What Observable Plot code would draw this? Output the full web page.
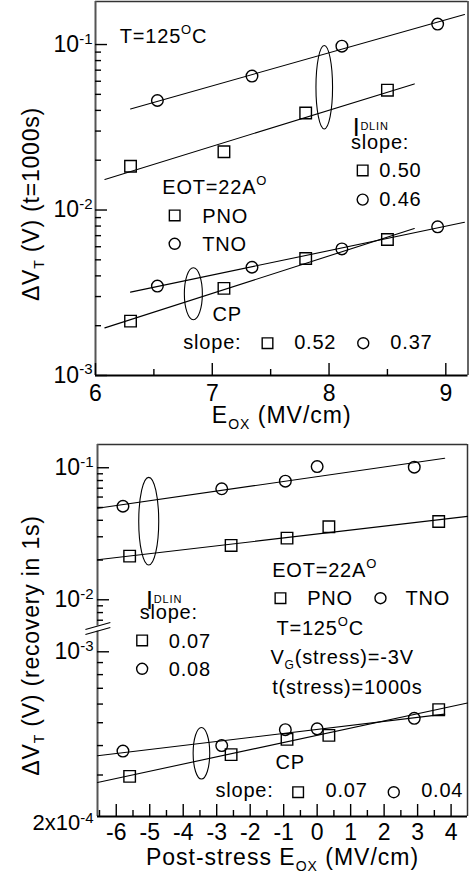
<!DOCTYPE html>
<html><head><meta charset="utf-8">
<script src="https://cdn.jsdelivr.net/npm/d3@7"></script>
<script src="https://cdn.jsdelivr.net/npm/@observablehq/plot@0.6"></script>
<style>
html,body{margin:0;padding:0;background:#fff;}
#wrap{position:relative;width:469px;height:875px;overflow:hidden;}
#top{position:absolute;left:0;top:0;}
#bot{position:absolute;left:0;top:430px;}
</style></head><body><div id="wrap"><div id="top"></div><div id="bot"></div></div>
<script>
// ================= DATA =================
// Top panel: dVT after 1000 s stress vs EOX (MV/cm)
const topPNOx = [6.30, 7.10, 7.80, 8.50];
const topTNOx = [6.53, 7.34, 8.11, 8.93];
const topPNO_IDLIN = [0.0184, 0.0225, 0.0386, 0.0530];
const topTNO_IDLIN = [0.0459, 0.0645, 0.0977, 0.133];
const topPNO_CP = [0.00213, 0.00336, 0.00509, 0.00664];
const topTNO_CP = [0.00347, 0.00451, 0.00582, 0.00791];
// fitted lines, end points
const topFitPNOx = [6.08, 8.73];
const topFitTNOx = [6.30, 9.16];
const topFitPNO_IDLIN = [0.0153, 0.0578];
const topFitTNO_IDLIN = [0.0408, 0.152];
const topFitPNO_CP = [0.00194, 0.00773];
const topFitTNO_CP = [0.00319, 0.00843];
const topXTicks = [6, 7, 8, 9];
const topXMinor = [6.5, 7.5, 8.5];
const topYTicks = [0.1, 0.01, 0.001];
const topYTickLabels = ["10-1", "10-2", "10-3"];

// Bottom panel: dVT recovery in 1 s vs post-stress EOX (MV/cm)
const botTNOx = [-5.80, -2.85, -0.95, 0.0, 2.90];
const botPNOx = [-5.60, -2.57, -0.90, 0.35, 3.63];
const botTNO_IDLIN = [0.0511, 0.0693, 0.0791, 0.102, 0.101];
const botPNO_IDLIN = [0.0214, 0.0258, 0.0293, 0.0357, 0.0392];
const botTNO_CP = [3.79e-4, 4.00e-4, 4.67e-4, 4.71e-4, 5.22e-4];
const botPNO_CP = [2.96e-4, 3.66e-4, 4.25e-4, 4.42e-4, 5.68e-4];
const botFitTNOx = [-6.56, 3.81];
const botFitPNOx = [-6.56, 4.49];
const botFitTNO_IDLIN = [0.0494, 0.118];
const botFitPNO_IDLIN = [0.0201, 0.0428];
const botFitTNO_CP = [3.62e-4, 5.44e-4];
const botFitPNO_CP = [2.79e-4, 6.06e-4];
const botXTicks = [-6, -5, -4, -3, -2, -1, 0, 1, 2, 3, 4];
const botXMinor = [-6.5, -5.5, -4.5, -3.5, -2.5, -1.5, -0.5, 0.5, 1.5, 2.5, 3.5];
const botYTicks = [0.1, 0.01, 0.001];
const botYTickLabels = ["10-1", "10-2", "10-3"];
const botYBottomLabel = "2x10-4";

// ================= HELPERS =================
const FONT = '"Liberation Sans", Arial, Helvetica, sans-serif';
const pts = (xs, ys) => xs.map((x, i) => ({x, y: ys[i]}));
const decadeMinor = (ks, p) => ks.map(k => k * p);

// rich text: plain string -> parts [text, fontSize, baselineShift]
const RICH = {
  "T=125OC": {parts: [["T=125", 20, 0], ["O", 13, -9], ["C", 20, 0]]},
  "EOT=22AO": {parts: [["EOT=22A", 20, 0], ["O", 13, -9]]},
  "IDLIN": {parts: [["I", 25, 0], ["DLIN", 11, -6]]},
  "VG(stress)=-3V": {parts: [["V", 20, 0], ["G", 12, 5], ["(stress)=-3V", 20, 0]]},
  "ΔVT (V) (t=1000s)": {ls: 0.8, parts: [["ΔV", 23, 0], ["T", 14, 5], [" (V) (t=1000s)", 23, 0]]},
  "ΔVT (V) (recovery in 1s)": {ls: 0.8, parts: [["ΔV", 23, 0], ["T", 14, 5], [" (V) (recovery in 1s)", 23, 0]]},
  "EOX (MV/cm)": {ls: 1, parts: [["E", 23, 0], ["OX", 14, 6], [" (MV/cm)", 23, 0]]},
  "Post-stress EOX (MV/cm)": {ls: 1, parts: [["Post-stress E", 23, 0], ["OX", 14, 6], [" (MV/cm)", 23, 0]]},
  "10-1": {parts: [["10", 23, 0], ["-1", 15, -8.4]]},
  "10-2": {parts: [["10", 23, 0], ["-2", 15, -8.4]]},
  "10-3": {parts: [["10", 23, 0], ["-3", 15, -8.4]]},
  "2x10-4": {parts: [["2x10", 22, 0], ["-4", 15, -7.6]]}
};
function finish(svg) {
  d3.select(svg).selectAll("text").each(function() {
    const key = this.textContent;
    const fs = +(this.parentNode.getAttribute("font-size") || 0);
    if (fs === 20) this.setAttribute("letter-spacing", "0.8");
    const r = RICH[key];
    if (!r) return;
    if (r.ls) this.setAttribute("letter-spacing", r.ls);
    this.textContent = "";
    let cur = 0;
    for (const [t, size, shift] of r.parts) {
      const ts = document.createElementNS("http://www.w3.org/2000/svg", "tspan");
      ts.textContent = t;
      ts.setAttribute("font-size", size);
      if (shift - cur !== 0) ts.setAttribute("dy", shift - cur);
      cur = shift;
      this.appendChild(ts);
    }
  });
  return svg;
}
function ellipse(k) {
  return {draw(ctx, size) {
    const rx = Math.sqrt(size / Math.PI), ry = rx * k, c = 0.5523;
    ctx.moveTo(rx, 0);
    ctx.bezierCurveTo(rx, ry * c, rx * c, ry, 0, ry);
    ctx.bezierCurveTo(-rx * c, ry, -rx, ry * c, -rx, 0);
    ctx.bezierCurveTo(-rx, -ry * c, -rx * c, -ry, 0, -ry);
    ctx.bezierCurveTo(rx * c, -ry, rx, -ry * c, rx, 0);
    ctx.closePath();
  }};
}
const LINE = {stroke: "black", strokeWidth: 1.1};
const SQ = {symbol: "square", r: 6.5, stroke: "black", fill: "none", strokeWidth: 1.4};
const CI = {symbol: "circle", r: 5.8, stroke: "black", fill: "none", strokeWidth: 1.4};
const NOTE = {textAnchor: "start", lineAnchor: "bottom", fontSize: 20, fill: "black"};
const TICK = {stroke: "black", strokeWidth: 1.4};

// ================= TOP PANEL =================
{
  const W = 469, H = 430, mL = 95, mR = 1.5, mT = 1, mB = 55;
  const fW = W - mL - mR, fH = H - mT - mB;
  const xD = [6, 9.19], yD = [0.001, 0.182];
  const notes = [
    {x: 6.208, y: 0.102, t: "T=125OC"},
    {x: 8.202, y: 0.0282, t: "IDLIN"},
    {x: 8.188, y: 0.0234, t: "slope:"},
    {x: 8.431, y: 0.01578, t: "0.50"},
    {x: 8.431, y: 0.01064, t: "0.46"},
    {x: 6.572, y: 0.01253, t: "EOT=22AO"},
    {x: 6.915, y: 0.00832, t: "PNO"},
    {x: 6.915, y: 0.00564, t: "TNO"},
    {x: 7.001, y: 0.00213, t: "CP"},
    {x: 6.752, y: 0.00145, t: "slope:"},
    {x: 7.701, y: 0.00145, t: "0.52"},
    {x: 8.525, y: 0.00145, t: "0.37"}
  ];
  const legSq = [{x: 8.288, y: 0.01734}, {x: 6.678, y: 0.00927}, {x: 7.473, y: 0.001567}];
  const legCi = [{x: 8.288, y: 0.01156}, {x: 6.678, y: 0.00625}, {x: 8.293, y: 0.001567}];
  const minorY = [...decadeMinor([2,3,4,5,6,7,8,9], 1e-3), ...decadeMinor([2,3,4,5,6,7,8,9], 1e-2)];
  const svg = Plot.plot({
    width: W, height: H, marginLeft: mL, marginRight: mR, marginTop: mT, marginBottom: mB,
    style: {fontFamily: FONT, overflow: "visible", background: "transparent", color: "black"},
    x: {domain: xD, axis: null},
    y: {type: "log", domain: yD, axis: null},
    marks: [
      Plot.ruleY([yD[1]], {stroke: "#333", strokeWidth: 1.5}),
      Plot.ruleX([xD[1]], {stroke: "#333", strokeWidth: 1.5}),
      Plot.ruleX([xD[0]], {stroke: "#555", strokeWidth: 2}),
      Plot.ruleY([yD[0]], {stroke: "black", strokeWidth: 2}),
      Plot.tickY(topYTicks, {y: d => d, insetRight: fW - 12, ...TICK}),
      Plot.tickY(minorY, {y: d => d, insetRight: fW - 6, ...TICK}),
      Plot.tickX(topXTicks, {x: d => d, insetTop: fH - 12, ...TICK}),
      Plot.tickX(topXMinor, {x: d => d, insetTop: fH - 6, ...TICK}),
      Plot.text(topYTicks, {y: d => d, text: (d, i) => topYTickLabels[i], frameAnchor: "left", dx: -3, textAnchor: "end", lineAnchor: "middle", fontSize: 23}),
      Plot.text(topXTicks, {x: d => d, text: d => String(d), frameAnchor: "bottom", dy: 25, textAnchor: "middle", lineAnchor: "bottom", fontSize: 23}),
      Plot.text(["EOX (MV/cm)"], {frameAnchor: "bottom", dy: 47.7, textAnchor: "middle", lineAnchor: "bottom", fontSize: 23}),
      Plot.text([{t: "ΔVT (V) (t=1000s)", y: 0.01087}], {text: "t", y: "y", frameAnchor: "left", dx: -64, rotate: -90, textAnchor: "middle", lineAnchor: "middle", fontSize: 23}),
      Plot.line(pts(topFitTNOx, topFitTNO_IDLIN), {x: "x", y: "y", ...LINE}),
      Plot.line(pts(topFitPNOx, topFitPNO_IDLIN), {x: "x", y: "y", ...LINE}),
      Plot.line(pts(topFitTNOx, topFitTNO_CP), {x: "x", y: "y", ...LINE}),
      Plot.line(pts(topFitPNOx, topFitPNO_CP), {x: "x", y: "y", ...LINE}),
      Plot.dot(pts(topPNOx, topPNO_IDLIN), {x: "x", y: "y", ...SQ}),
      Plot.dot(pts(topTNOx, topTNO_IDLIN), {x: "x", y: "y", ...CI}),
      Plot.dot(pts(topPNOx, topPNO_CP), {x: "x", y: "y", ...SQ}),
      Plot.dot(pts(topTNOx, topTNO_CP), {x: "x", y: "y", ...CI}),
      Plot.dot(legSq, {x: "x", y: "y", ...SQ, r: 6}),
      Plot.dot(legCi, {x: "x", y: "y", ...CI, r: 5.5}),
      Plot.dot([{x: 7.959, y: 0.0552}], {x: "x", y: "y", r: 8.3, symbol: ellipse(41.7 / 8.3), stroke: "black", fill: "none", strokeWidth: 1.1}),
      Plot.dot([{x: 6.838, y: 0.00312}], {x: "x", y: "y", r: 9, symbol: ellipse(26 / 9), stroke: "black", fill: "none", strokeWidth: 1.1}),
      Plot.text(notes, {x: "x", y: "y", text: "t", ...NOTE})
    ]
  });
  document.getElementById("top").appendChild(finish(svg));
}

// ================= BOTTOM PANEL (broken log axis) =================
{
  const W = 469, H = 445, mL = 97, mR = 2, mT = 14, mB = 59;
  const fW = W - mL - mR, fH = H - mT - mB;
  // piecewise log position: upper segment 1e-2..1.5e-1, lower segment 2e-4..1e-3
  const UP = 132, LO = 235.6, GAP = 52;
  const f = v => { const l = Math.log10(v); return v >= 0.0025 ? UP * l : -2 * UP - GAP + LO * (l + 3); };
  const xD = [-6.56, 4.49], yTop = 0.15, yBot = 2e-4;
  const Y = d => f(d.y);
  const notes = [
    {x: -5.108, y: 0.00855, t: "IDLIN"},
    {x: -5.299, y: 0.00718, t: "slope:"},
    {x: -4.433, y: 0.00104, t: "0.07"},
    {x: -4.433, y: 7.93e-4, t: "0.08"},
    {x: -1.344, y: 0.01483, t: "EOT=22AO"},
    {x: -0.299, y: 0.00906, t: "PNO"},
    {x: 2.637, y: 0.00906, t: "TNO"},
    {x: -1.216, y: 0.001184, t: "T=125OC"},
    {x: -1.395, y: 8.89e-4, t: "VG(stress)=-3V"},
    {x: -1.344, y: 6.64e-4, t: "t(stress)=1000s"},
    {x: -1.246, y: 3.19e-4, t: "CP"},
    {x: -3.038, y: 2.415e-4, t: "slope:"},
    {x: 0.248, y: 2.415e-4, t: "0.07"},
    {x: 3.106, y: 2.415e-4, t: "0.04"}
  ];
  const legSq = [{x: -5.227, y: 0.001117}, {x: -1.096, y: 0.01028}, {x: -0.568, y: 2.535e-4}];
  const legCi = [{x: -5.227, y: 8.47e-4}, {x: 1.891, y: 0.01028}, {x: 2.288, y: 2.535e-4}];
  const minorY = [...decadeMinor([2,3,4,5,6,7,8,9], 1e-2), ...decadeMinor([7,8,9], 1e-3), ...decadeMinor([3,4,5,6,7,8,9], 1e-4)];
  const axisSegs = [{y1: yBot, y2: 0.001224}, {y1: 0.006324, y2: yTop}];
  const breaks = [{x1: -6.921, y1: 0.005957, x2: -6.177, y2: 0.006730}, {x1: -6.921, y1: 0.001184, x2: -6.177, y2: 0.006166}];
  const svg = Plot.plot({
    width: W, height: H, marginLeft: mL, marginRight: mR, marginTop: mT, marginBottom: mB,
    style: {fontFamily: FONT, overflow: "visible", background: "transparent", color: "black"},
    x: {domain: xD, axis: null},
    y: {type: "linear", domain: [f(yBot), f(yTop)], axis: null},
    marks: [
      Plot.ruleY([yTop], {y: d => f(d), stroke: "#333", strokeWidth: 1.5}),
      Plot.ruleX([xD[1]], {stroke: "#333", strokeWidth: 1.5}),
      Plot.ruleX(axisSegs, {x: () => xD[0], y1: d => f(d.y1), y2: d => f(d.y2), stroke: "#555", strokeWidth: 2}),
      Plot.link(breaks, {x1: "x1", x2: "x2", y1: d => f(d.y1), y2: d => f(d.y2), stroke: "black", strokeWidth: 1.2}),
      Plot.ruleY([yBot], {y: d => f(d), stroke: "black", strokeWidth: 2}),
      Plot.tickY(botYTicks, {y: d => f(d), insetRight: fW - 12, ...TICK}),
      Plot.tickY(minorY, {y: d => f(d), insetRight: fW - 6, ...TICK}),
      Plot.tickX(botXTicks, {x: d => d, insetTop: fH - 12, ...TICK}),
      Plot.tickX(botXMinor, {x: d => d, insetTop: fH - 6, ...TICK}),
      Plot.text(botYTicks, {y: d => f(d), text: (d, i) => botYTickLabels[i], frameAnchor: "left", dx: -4, textAnchor: "end", lineAnchor: "middle", fontSize: 23}),
      Plot.text([yBot], {y: d => f(d), text: () => botYBottomLabel, frameAnchor: "left", dx: -4, dy: 13.6, textAnchor: "end", lineAnchor: "bottom", fontSize: 22}),
      Plot.text(botXTicks, {x: d => d, text: d => String(d), frameAnchor: "bottom", dy: 23, textAnchor: "middle", lineAnchor: "bottom", fontSize: 23}),
      Plot.text(["Post-stress EOX (MV/cm)"], {frameAnchor: "bottom", dy: 48.3, textAnchor: "middle", lineAnchor: "bottom", fontSize: 23}),
      Plot.text([{t: "ΔVT (V) (recovery in 1s)", y: 0.00451}], {text: "t", y: Y, frameAnchor: "left", dx: -66, rotate: -90, textAnchor: "middle", lineAnchor: "middle", fontSize: 23}),
      Plot.line(pts(botFitTNOx, botFitTNO_IDLIN), {x: "x", y: Y, ...LINE}),
      Plot.line(pts(botFitPNOx, botFitPNO_IDLIN), {x: "x", y: Y, ...LINE}),
      Plot.line(pts(botFitTNOx, botFitTNO_CP), {x: "x", y: Y, ...LINE}),
      Plot.line(pts(botFitPNOx, botFitPNO_CP), {x: "x", y: Y, ...LINE}),
      Plot.dot(pts(botPNOx, botPNO_IDLIN), {x: "x", y: Y, ...SQ}),
      Plot.dot(pts(botTNOx, botTNO_IDLIN), {x: "x", y: Y, ...CI}),
      Plot.dot(pts(botPNOx, botPNO_CP), {x: "x", y: Y, ...SQ}),
      Plot.dot(pts(botTNOx, botTNO_CP), {x: "x", y: Y, ...CI}),
      Plot.dot(legSq, {x: "x", y: Y, ...SQ, r: 6}),
      Plot.dot(legCi, {x: "x", y: Y, ...CI, r: 5.5}),
      Plot.dot([{x: -5.030, y: 0.0394}], {x: "x", y: Y, r: 10, symbol: ellipse(43.8 / 10), stroke: "black", fill: "none", strokeWidth: 1.1}),
      Plot.dot([{x: -3.456, y: 3.71e-4}], {x: "x", y: Y, r: 8.3, symbol: ellipse(25.8 / 8.3), stroke: "black", fill: "none", strokeWidth: 1.1}),
      Plot.text(notes, {x: "x", y: Y, text: "t", ...NOTE})
    ]
  });
  document.getElementById("bot").appendChild(finish(svg));
}
</script>
</body></html>
